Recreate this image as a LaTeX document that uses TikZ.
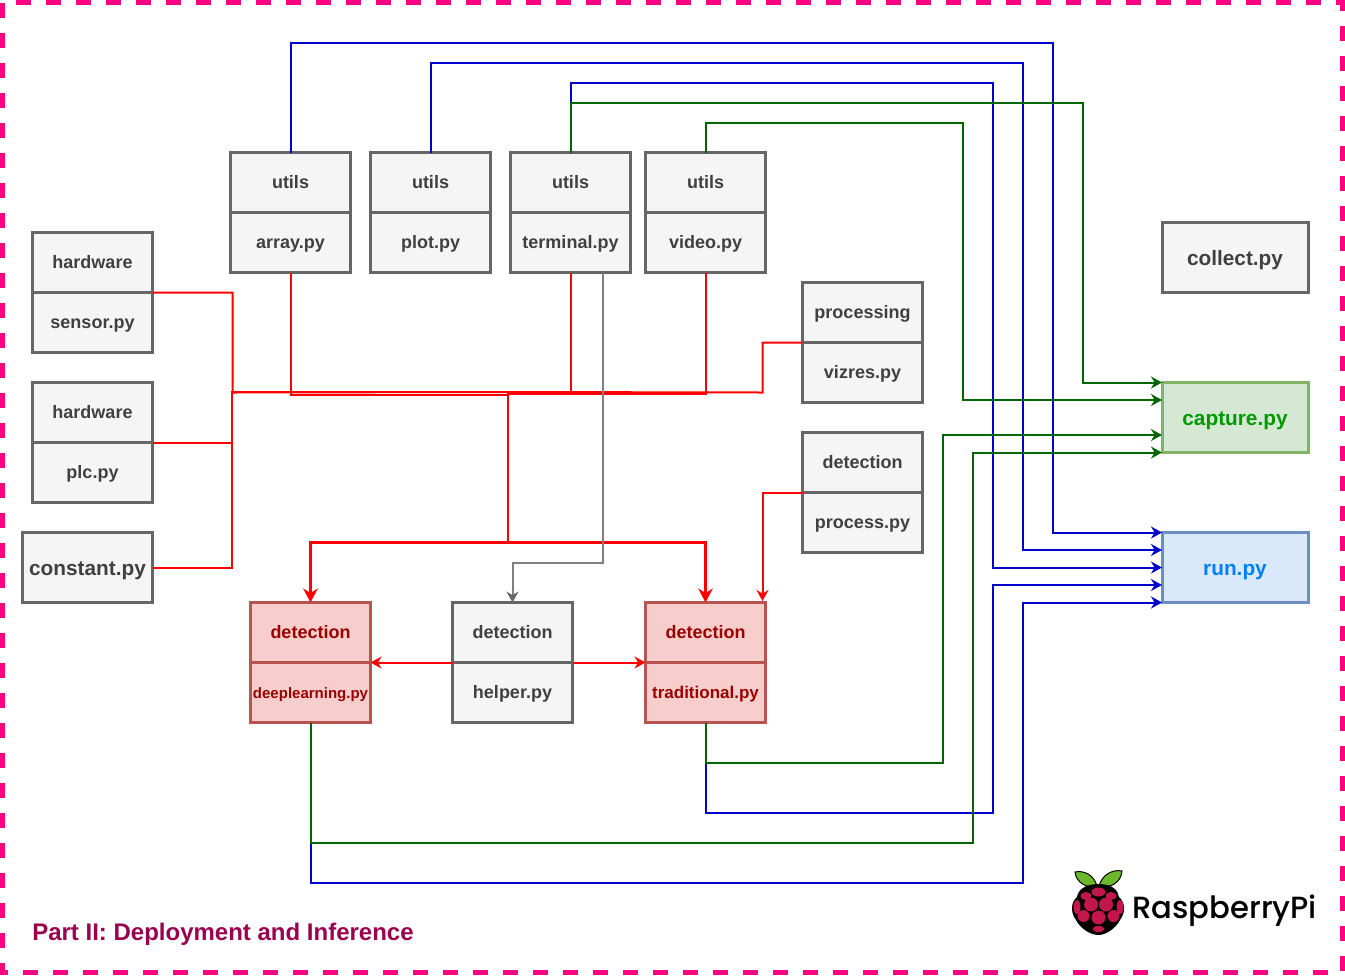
\documentclass[tikz,border=0pt]{standalone}
\usepackage{fontspec}
\setmainfont{Liberation Sans}
\newfontfamily\logofont{Poppins Medium}
\usetikzlibrary{arrows.meta}
\definecolor{framepink}{HTML}{FF0080}
\definecolor{titlewine}{HTML}{99004D}
\definecolor{wireblue}{HTML}{0000CC}
\definecolor{wiregreen}{HTML}{006600}
\definecolor{wiregrey}{HTML}{808080}
\definecolor{berry}{HTML}{C2174B}
\definecolor{leafgreen}{HTML}{6CB82C}
\definecolor{cellline}{HTML}{666666}
\definecolor{cellfill}{HTML}{F5F5F5}
\definecolor{celltext}{HTML}{404040}
\definecolor{redline}{HTML}{B85450}
\definecolor{redfill}{HTML}{F8CECC}
\definecolor{redtext}{HTML}{990000}
\definecolor{greenline}{HTML}{82B366}
\definecolor{greenfill}{HTML}{D5E8D4}
\definecolor{greentext}{HTML}{009900}
\definecolor{blueline}{HTML}{6C8EBF}
\definecolor{bluefill}{HTML}{DAE8FC}
\definecolor{bluetext}{HTML}{007FFF}
\newcommand{\cellfont}{\fontsize{13.5}{16}\selectfont\bfseries}
\newcommand{\bigfont}{\fontsize{15.6}{18}\selectfont\bfseries}

\begin{document}
\begin{tikzpicture}[
	x=0.75pt, y=-0.75pt,
	> = {Stealth[length=8.25pt,width=9pt]},
	cell/.style = {draw=cellline,fill=cellfill,text=celltext,line width=2.25pt,outer sep=0pt,inner sep=0pt,
		minimum width=90pt,minimum height=45pt,text height=10.75pt,text depth=2.25pt,font=\cellfont},
	redcell/.style = {cell,draw=redline,fill=redfill,text=redtext},
	solo/.style = {cell,minimum width=109.5pt,minimum height=52.5pt,font=\bigfont,text height=13.5pt,text depth=1pt},
	wire/.style = {line width=1.5pt},
	redwire/.style = {wire,red},
	fatwire/.style = {wire,red,line width=2.25pt,> = {Stealth[length=10.5pt,width=11pt]}},
	greywire/.style = {wire,wiregrey,> = {Stealth[length=8.25pt,width=9pt,color=cellline]}},
	bluewire/.style = {wire,wireblue},
	greenwire/.style = {wire,wiregreen},
	berrydot/.style = {fill=berry}
	]
	\useasboundingbox (0,0) rectangle (1345,975);
	\draw[framepink,line width=3.75pt,dash pattern=on 11.25pt off 11.25pt] (2.5,2.5) rectangle (1342,972);

	\node[cell] (arrayhead) at (290.5,182.5) {utils};
	\node[cell] (array) at (290.5,242.5) {array.py};
	\node[cell] (plothead) at (430.5,182.5) {utils};
	\node[cell] (plot) at (430.5,242.5) {plot.py};
	\node[cell] (terminalhead) at (570.5,182.5) {utils};
	\node[cell] (terminal) at (570.5,242.5) {terminal.py};
	\node[cell] (videohead) at (705.5,182.5) {utils};
	\node[cell] (video) at (705.5,242.5) {video.py};

	\node[cell] (sensorhead) at (92.5,262.5) {hardware};
	\node[cell] (sensor) at (92.5,322.5) {sensor.py};
	\node[cell] (plchead) at (92.5,412.5) {hardware};
	\node[cell] (plc) at (92.5,472.5) {plc.py};
	\node[solo,minimum width=97.5pt] (constant) at (87.5,567.5) {constant.py};

	\node[cell] (vizreshead) at (862.5,312.5) {processing};
	\node[cell] (vizres) at (862.5,372.5) {vizres.py};
	\node[cell] (processhead) at (862.5,462.5) {detection};
	\node[cell] (process) at (862.5,522.5) {process.py};

	\node[redcell] (deephead) at (310.5,632.5) {detection};
	\node[redcell,font=\fontsize{11.25}{14}\selectfont\bfseries] (deep) at (310.5,692.5) {deeplearning.py};
	\node[cell] (helperhead) at (512.5,632.5) {detection};
	\node[cell] (helper) at (512.5,692.5) {helper.py};
	\node[redcell] (tradhead) at (705.5,632.5) {detection};
	\node[redcell,font=\fontsize{12.75}{15}\selectfont\bfseries] (trad) at (705.5,692.5) {traditional.py};

	\node[solo] (collect) at (1235,257.5) {collect.py};
	\node[solo,draw=greenline,fill=greenfill,text=greentext] (capture) at (1235,417.5) {capture.py};
	\node[solo,draw=blueline,fill=bluefill,text=bluetext] (run) at (1235,567.5) {run.py};

	% ports on the right
	\coordinate (@cap1) at (1162,382.5);
	\coordinate (@cap2) at (1162,400);
	\coordinate (@cap3) at (1162,435);
	\coordinate (@cap4) at (1162,452.5);
	\coordinate (@run1) at (1162,532.5);
	\coordinate (@run2) at (1162,550);
	\coordinate (@run3) at (1162,567.5);
	\coordinate (@run4) at (1162,585);
	\coordinate (@run5) at (1162,602.5);

	% red bus
	\coordinate (@hub) at (508,392);
	\coordinate (@hubvideo) at (508,394);
	\coordinate (@hubarray) at (508,395);
	\coordinate (@split) at (508,542.5);
	\coordinate (@greydrop) at (602.5,272.5);
	\coordinate (@tradcorner) at (762.5,601);

	\draw[bluewire,->] (arrayhead.north) |- (1052.5,42.5) |- (@run1);
	\draw[bluewire,->] (plothead.north) |- (1022.5,62.5) |- (@run2);
	\draw[bluewire,->] (terminalhead.north) |- (992.5,82.5) |- (@run3);
	\draw[bluewire,->] (trad.south) |- (992.5,812.5) |- (@run4);
	\draw[bluewire,->] (deep.south) |- (1022.5,882.5) |- (@run5);
	\draw[greenwire,->] (terminalhead.north) |- (1082.5,102.5) |- (@cap1);
	\draw[greenwire,->] (videohead.north) |- (962.5,122.5) |- (@cap2);
	\draw[greenwire,->] (trad.south) |- (942.5,762.5) |- (@cap3);
	\draw[greenwire,->] (deep.south) |- (972.5,842.5) |- (@cap4);

	\draw[redwire] (sensorhead.south east) -| (232.5,392.5) -- (@hub);
	\draw[redwire] (plchead.south east) -| (231.5,392) -- (@hub);
	\draw[redwire] (constant.east) -| (231.5,392);
	\draw[redwire] (array.south) |- (@hubarray);
	\draw[redwire] (terminal.south) |- (@hub);
	\draw[redwire] (video.south) |- (@hubvideo);
	\draw[redwire] (vizreshead.south west) -| (762.5,392.5) -- (@hub);
	\draw[redwire] (@hub) -- (@split);
	\draw[fatwire,->] (@split) -| (deephead.north);
	\draw[fatwire,->] (@split) -| (tradhead.north);
	\draw[redwire,->] (processhead.south west) -| (@tradcorner);
	\draw[greywire,->] (@greydrop) |- (512.5,562.5) -- (helperhead.north);
	\draw[redwire,->] (helperhead.south west) -- (deephead.south east);
	\draw[redwire,->] (helperhead.south east) -- (tradhead.south west);

	\node[anchor=base west,inner sep=0pt,text=titlewine,font=\fontsize{18}{21}\selectfont\bfseries] (title) at (32,940) {Part II: Deployment and Inference};

	% logo
	\filldraw[fill=leafgreen,draw=black,line width=0.75pt] (1097,886) .. controls (1094,875) and (1084,870) .. (1075,872) .. controls (1076,882) and (1086,889) .. (1097,886);
	\filldraw[fill=leafgreen,draw=black,line width=0.75pt] (1099,886) .. controls (1102,875) and (1112,869) .. (1122,871) .. controls (1121,882) and (1111,889) .. (1099,886);
	\fill[black] (1098.5,884) .. controls (1112,884) and (1118,890) .. (1119,897) .. controls (1125,902) and (1126,912) .. (1120,920) .. controls (1116,928) and (1106,935) .. (1098.5,935) .. controls (1090,935) and (1080,928) .. (1076,920) .. controls (1070,912) and (1071,902) .. (1077,897) .. controls (1078,890) and (1085,884) .. (1098.5,884);
	\fill[berrydot] (1098.5,892) ellipse [x radius=7,y radius=4.5];
	\fill[berrydot] (1086,896) ellipse [x radius=5.5,y radius=4];
	\fill[berrydot] (1111,896) ellipse [x radius=5.5,y radius=4];
	\fill[berrydot] (1091,904.5) circle [radius=7];
	\fill[berrydot] (1106,904.5) circle [radius=7];
	\fill[berrydot] (1077,907) ellipse [x radius=3.5,y radius=7];
	\fill[berrydot] (1120,907) ellipse [x radius=3.5,y radius=7];
	\fill[berrydot] (1098.5,917.5) circle [radius=7];
	\fill[berrydot] (1083.5,916) circle [radius=6];
	\fill[berrydot] (1113.5,916) circle [radius=6];
	\fill[berrydot] (1098.5,929) ellipse [x radius=6,y radius=3];
	\node[anchor=base west,inner sep=0pt,font=\logofont\fontsize{23}{28}\selectfont] (logotext) at (1132,918) {RaspberryPi};
\end{tikzpicture}
\end{document}
